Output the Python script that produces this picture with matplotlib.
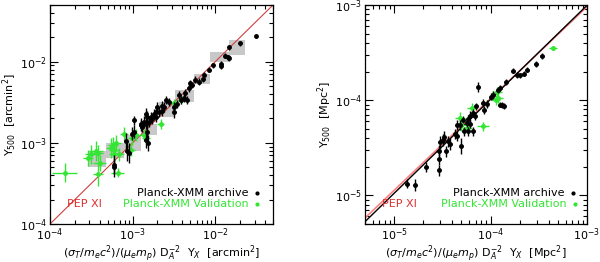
import numpy as np
import matplotlib
matplotlib.use("Agg")
import matplotlib.pyplot as plt
from matplotlib.patches import Rectangle

# ---------------- Left panel data (arcmin^2) ----------------
L_arch_x = [3.1e-2, 2.0e-2, 1.45e-2, 1.32e-2, 1.41e-2, 1.45e-2, 1.18e-2, 1.19e-2, 9.3e-3, 8.5e-3,
            7.4e-3, 7.2e-3, 6.4e-3, 5.75e-3, 5.0e-3, 4.8e-3, 4.36e-3, 4.17e-3, 3.9e-3, 4.5e-3,
            3.4e-3, 3.16e-3, 3.16e-3, 2.75e-3, 2.4e-3, 2.27e-3, 2.27e-3, 2.09e-3, 1.9e-3, 1.82e-3,
            1.66e-3, 1.9e-3, 1.72e-3, 1.5e-3, 1.45e-3, 1.38e-3, 1.58e-3, 1.26e-3, 1.3e-3, 1.5e-3,
            1.45e-3, 1.54e-3, 1.05e-3, 1.26e-3, 1.05e-3, 9.9e-4, 8.3e-4, 8.6e-4, 9.1e-4, 6.0e-4,
            6.0e-4, 1.45e-3, 1.98e-3, 2.54e-3, 3.6e-3, 5.2e-3]
L_arch_y = [2.07e-2, 1.69e-2, 1.5e-2, 1.19e-2, 1.14e-2, 1.1e-2, 9.5e-3, 8.8e-3, 9.0e-3, 8.0e-3,
            6.9e-3, 6.1e-3, 5.7e-3, 6.0e-3, 5.5e-3, 4.7e-3, 4.1e-3, 3.6e-3, 3.4e-3, 3.4e-3,
            3.0e-3, 2.75e-3, 2.4e-3, 3.16e-3, 2.75e-3, 2.47e-3, 2.83e-3, 2.4e-3, 2.4e-3, 2.27e-3,
            2.09e-3, 2.09e-3, 1.98e-3, 2.09e-3, 2.27e-3, 1.82e-3, 1.82e-3, 1.72e-3, 1.58e-3, 1.38e-3,
            1.09e-3, 9.9e-4, 1.89e-3, 1.64e-3, 1.38e-3, 1.3e-3, 1.05e-3, 7.9e-4, 7.5e-4, 5.4e-4,
            5.0e-4, 1.72e-3, 2.75e-3, 3.4e-3, 3.9e-3, 5.2e-3]
L_arch_ey = [0.02, 0.03, 0.03, 0.03, 0.03, 0.03, 0.03, 0.03, 0.03, 0.03,
             0.03, 0.04, 0.04, 0.04, 0.04, 0.05, 0.05, 0.05, 0.05, 0.05,
             0.05, 0.06, 0.07, 0.05, 0.06, 0.06, 0.06, 0.06, 0.06, 0.06,
             0.06, 0.06, 0.06, 0.07, 0.07, 0.07, 0.07, 0.07, 0.07, 0.08,
             0.1, 0.1, 0.06, 0.07, 0.08, 0.08, 0.1, 0.12, 0.12, 0.12,
             0.12, 0.06, 0.06, 0.05, 0.05, 0.04]

L_val_x = [1.5e-4, 3.16e-4, 3.6e-4, 4.0e-4, 3.8e-4, 6.6e-4, 5.5e-4, 6.0e-4, 5.75e-4, 6.3e-4,
           6.0e-4, 6.9e-4, 7.9e-4, 9.8e-4, 1.1e-3, 9.5e-4, 1.38e-3, 1.45e-3, 2.19e-3, 3.16e-3,
           3.8e-3, 3.8e-4, 2.86e-4]
L_val_y = [4.3e-4, 7.2e-4, 7.9e-4, 5.7e-4, 4.1e-4, 4.3e-4, 8.6e-4, 8.2e-4, 9.5e-4, 1.0e-3,
           7.2e-4, 7.2e-4, 1.3e-3, 1.14e-3, 1.25e-3, 8.2e-4, 1.25e-3, 1.14e-3, 1.72e-3, 3.13e-3,
           3.4e-3, 7.5e-4, 6.5e-4]
L_val_ex = [0.15, 0.08, 0.08, 0.08, 0.06, 0.08, 0.06, 0.06, 0.06, 0.06,
            0.06, 0.06, 0.05, 0.05, 0.05, 0.05, 0.05, 0.05, 0.04, 0.04,
            0.04, 0.06, 0.06]
L_val_ey = [0.12, 0.12, 0.12, 0.1, 0.15, 0.06, 0.12, 0.1, 0.1, 0.1,
            0.1, 0.08, 0.08, 0.08, 0.07, 0.08, 0.07, 0.07, 0.06, 0.05,
            0.05, 0.1, 0.1]

# binned boxes (x0, x1, y0, y1)
box_x0 = [2.9e-4, 4.8e-4, 7.9e-4, 1.26e-3, 2.09e-3, 3.3e-3, 5.5e-3, 8.7e-3, 1.45e-2]
box_x1 = [4.8e-4, 7.9e-4, 1.26e-3, 2.0e-3, 3.3e-3, 5.5e-3, 8.7e-3, 1.45e-2, 2.3e-2]
box_y0 = [5.0e-4, 6.5e-4, 7.9e-4, 1.25e-3, 2.1e-3, 3.2e-3, 5.3e-3, 9.9e-3, 1.2e-2]
box_y1 = [7.9e-4, 1.0e-3, 1.25e-3, 1.7e-3, 3.2e-3, 4.5e-3, 7.0e-3, 1.3e-2, 1.85e-2]

# ---------------- Right panel data (Mpc^2) ----------------
R_arch_x = [3.4e-4, 2.96e-4, 2.37e-4, 2.22e-4, 2.0e-4, 1.7e-4, 1.87e-4, 1.45e-4, 1.25e-4, 1.2e-4,
            1.31e-4, 1.25e-4, 1.37e-4, 1.05e-4, 1.0e-4, 9.1e-5, 8.3e-5, 8.6e-5, 7.5e-5, 7.1e-5,
            6.6e-5, 6.9e-5, 6.2e-5, 5.9e-5, 5.2e-5, 5.7e-5, 6.1e-5, 6.6e-5, 5.9e-5, 5.3e-5,
            4.8e-5, 4.45e-5, 4.3e-5, 4.45e-5, 5.0e-5, 3.8e-5, 3.65e-5, 3.3e-5, 3.24e-5, 3.45e-5,
            2.94e-5, 3.0e-5, 2.94e-5, 2.9e-5, 2.14e-5, 1.65e-5, 1.35e-5]
R_arch_y = [2.9e-4, 2.4e-4, 2.1e-4, 1.9e-4, 1.82e-4, 2.05e-4, 1.85e-4, 1.56e-4, 1.35e-4, 1.27e-4,
            8.9e-5, 9.0e-5, 8.7e-5, 1.13e-4, 1.09e-4, 9.1e-5, 9.3e-5, 7.9e-5, 1.38e-4, 8.6e-5,
            7.3e-5, 6.8e-5, 6.8e-5, 6.4e-5, 6.25e-5, 5.8e-5, 5.6e-5, 4.7e-5, 4.7e-5, 4.7e-5,
            5.5e-5, 5.5e-5, 4.4e-5, 4.2e-5, 3.3e-5, 3.45e-5, 3.7e-5, 4.1e-5, 3.8e-5, 2.9e-5,
            2.94e-5, 3.6e-5, 2.4e-5, 1.83e-5, 1.98e-5, 1.28e-5, 1.33e-5]
R_arch_ey = [0.03, 0.03, 0.03, 0.03, 0.03, 0.03, 0.03, 0.03, 0.03, 0.03,
             0.03, 0.03, 0.03, 0.04, 0.04, 0.04, 0.04, 0.04, 0.05, 0.04,
             0.04, 0.04, 0.05, 0.04, 0.04, 0.05, 0.04, 0.05, 0.05, 0.05,
             0.05, 0.05, 0.05, 0.05, 0.08, 0.06, 0.06, 0.06, 0.06, 0.06,
             0.06, 0.07, 0.06, 0.06, 0.05, 0.06, 0.05]

R_val_x = [4.47e-4, 1.16e-4, 1.2e-4, 1.13e-4, 6.4e-5, 4.8e-5, 5.0e-5, 8.4e-5, 5.7e-5]
R_val_y = [3.5e-4, 1.23e-4, 1.05e-4, 1.0e-4, 8.2e-5, 6.5e-5, 5.5e-5, 5.3e-5, 5.15e-5]
R_val_ex = [0.04, 0.05, 0.05, 0.05, 0.05, 0.05, 0.05, 0.06, 0.05]
R_val_ey = [0.02, 0.05, 0.05, 0.05, 0.06, 0.06, 0.06, 0.05, 0.05]

# relations: (normalisation at pivot 1e-4, slope)
L_pep = (1.0e-4, 1.0)
R_black = (1.02e-4, 0.988)
R_pep = (1.04e-4, 0.965)

GREEN = "#33e633"
GREY = "#c8c8c8"
FS = 8


def logerr(v, d):
    v = np.asarray(v, float)
    d = np.asarray(d, float)
    return np.vstack([v - v * 10 ** (-d), v * 10 ** d - v])


def style(ax, xlim, ylim):
    ax.set_xscale("log")
    ax.set_yscale("log")
    ax.set_xlim(*xlim)
    ax.set_ylim(*ylim)
    ax.tick_params(which="both", direction="in", top=True, right=True, labelsize=FS, width=0.8)
    ax.tick_params(which="major", length=6, pad=2)
    ax.tick_params(which="minor", length=3)
    for s in ax.spines.values():
        s.set_linewidth(0.9)


fig = plt.figure(figsize=(6.0, 2.62), dpi=100)
axL = fig.add_axes([50 / 600, 38 / 262, 223 / 600, 219 / 262])
axR = fig.add_axes([365 / 600, 38 / 262, 222 / 600, 219 / 262])

# ---- Left
style(axL, (1e-4, 5e-2), (1e-4, 5e-2))
for x0, x1, y0, y1 in zip(box_x0, box_x1, box_y0, box_y1):
    axL.add_patch(Rectangle((x0, y0), x1 - x0, y1 - y0, facecolor=GREY, edgecolor="none", zorder=1))
xx = np.array([1e-4, 5e-2])
axL.plot(xx, L_pep[0] * (xx / 1e-4) ** L_pep[1], color="#d04040", lw=0.8, zorder=2)
axL.errorbar(L_val_x, L_val_y, xerr=logerr(L_val_x, L_val_ex), yerr=logerr(L_val_y, L_val_ey),
             fmt="o", ms=2.5, color=GREEN, ecolor=GREEN, elinewidth=1.0, capsize=0, zorder=3)
axL.errorbar(L_arch_x, L_arch_y, xerr=logerr(L_arch_x, np.full(len(L_arch_x), 0.02)),
             yerr=logerr(L_arch_y, L_arch_ey),
             fmt="o", ms=2.5, color="black", ecolor="black", elinewidth=1.0, capsize=0, zorder=4)
axL.set_ylabel(r"Y$_{500}$  [arcmin$^2$]", fontsize=FS, labelpad=1)
axL.set_xlabel(r"$(\sigma_T/m_e c^2)/(\mu_e m_p)$ D$_A^{-2}$  Y$_X$  [arcmin$^2$]", fontsize=FS, labelpad=0)
axL.text(0.076, 0.09, "PEP XI", color="#e03030", fontsize=FS, transform=axL.transAxes, va="center")
axL.text(0.89, 0.14, "Planck-XMM archive", color="black", fontsize=FS, transform=axL.transAxes,
         ha="right", va="center")
axL.text(0.89, 0.09, "Planck-XMM Validation", color=GREEN, fontsize=FS, transform=axL.transAxes,
         ha="right", va="center")
axL.plot([0.93], [0.14], "o", ms=2, color="black", transform=axL.transAxes)
axL.plot([0.93], [0.09], "o", ms=2, color=GREEN, transform=axL.transAxes)

# ---- Right
style(axR, (5e-6, 1e-3), (5e-6, 1e-3))
xx = np.array([5e-6, 1e-3])
axR.plot(xx, R_pep[0] * (xx / 1e-4) ** R_pep[1], color="#ff8080", lw=1.2, zorder=2)
axR.plot(xx, R_black[0] * (xx / 1e-4) ** R_black[1], color="black", lw=1.0, zorder=2)
axR.errorbar(R_val_x, R_val_y, xerr=logerr(R_val_x, R_val_ex), yerr=logerr(R_val_y, R_val_ey),
             fmt="o", ms=2.5, color=GREEN, ecolor=GREEN, elinewidth=1.0, capsize=0, zorder=3)
axR.errorbar(R_arch_x, R_arch_y, xerr=logerr(R_arch_x, np.full(len(R_arch_x), 0.02)),
             yerr=logerr(R_arch_y, R_arch_ey),
             fmt="o", ms=2.5, color="black", ecolor="black", elinewidth=1.0, capsize=0, zorder=4)
axR.set_ylabel(r"Y$_{500}$  [Mpc$^2$]", fontsize=FS, labelpad=1)
axR.set_xlabel(r"$(\sigma_T/m_e c^2)/(\mu_e m_p)$ D$_A^{-2}$  Y$_X$  [Mpc$^2$]", fontsize=FS, labelpad=0)
axR.text(0.077, 0.09, "PEP XI", color="#e03030", fontsize=FS, transform=axR.transAxes, va="center")
axR.text(0.90, 0.14, "Planck-XMM archive", color="black", fontsize=FS, transform=axR.transAxes,
         ha="right", va="center")
axR.text(0.91, 0.09, "Planck-XMM Validation", color=GREEN, fontsize=FS, transform=axR.transAxes,
         ha="right", va="center")
axR.plot([0.935], [0.14], "o", ms=2, color="black", transform=axR.transAxes)
axR.plot([0.945], [0.09], "o", ms=2, color=GREEN, transform=axR.transAxes)

fig.savefig("out.png", dpi=100)
